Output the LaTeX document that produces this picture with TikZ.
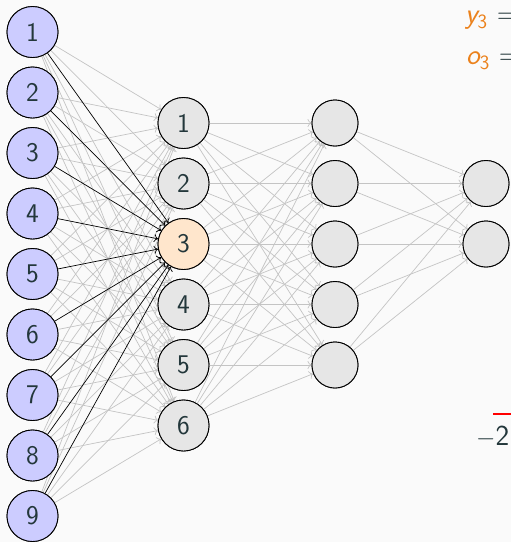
\documentclass[tikz,border=0pt]{standalone}
\usetikzlibrary{arrows.meta}
\definecolor{bgc}{HTML}{FAFAFA}
\definecolor{textc}{HTML}{23373B}
\definecolor{inpc}{HTML}{CCCCFF}
\definecolor{hidc}{HTML}{E6E6E6}
\definecolor{hlc}{HTML}{FFE6CC}
\definecolor{edgec}{HTML}{C4C4C4}
\definecolor{alertc}{HTML}{EB811B}
\tikzset{
  neuron/.style={circle, draw=black, line width=0.9pt, minimum size=51pt, inner sep=0pt, text=textc, font=\fontsize{27}{32}\selectfont\sffamily},
  inp/.style={neuron, fill=inpc},
  hid/.style={neuron, fill=hidc},
  hl/.style={neuron, fill=hlc},
  smallneuron/.style={neuron, fill=hidc, minimum size=46pt},
  edge/.style={-{To[length=4pt,width=8pt]}, draw=edgec, line width=0.7pt},
  hedge/.style={-{To[length=4pt,width=8pt]}, draw=black, line width=0.7pt},
  mtext/.style={text=alertc, font=\fontsize{29}{34}\selectfont\sffamily, inner sep=0pt, anchor=base west}
}
\begin{document}
\begin{tikzpicture}[x=1pt,y=-1pt]
\fill[bgc] (0,0) rectangle (511,542);
\useasboundingbox (0,0) rectangle (511,542);
\clip (0,0) rectangle (511,542);
% input layer
\foreach \i in {1,...,9} {
  \node[inp] (I\i) at (32.5, {32+(\i-1)*60.5}) {\i};
}
% hidden layer 1
\foreach \j in {1,...,6} {
  \ifnum\j=3
    \node[hl] (H\j) at (183.5, {123+(\j-1)*60.5}) {\j};
  \else
    \node[hid] (H\j) at (183.5, {123+(\j-1)*60.5}) {\j};
  \fi
}
% hidden layer 2
\foreach \k in {1,...,5} {
  \node[smallneuron] (G\k) at (335, {123+(\k-1)*60.5}) {};
}
% output layer
\foreach \m in {1,2} {
  \node[smallneuron] (O\m) at (486, {183.5+(\m-1)*60.5}) {};
}
% edges
\foreach \i in {1,...,9} {
  \foreach \j in {1,2,4,5,6} {
    \draw[edge] (I\i) -- (H\j);
  }
}
\foreach \j in {1,...,6} {
  \foreach \k in {1,...,5} {
    \draw[edge] (H\j) -- (G\k);
  }
}
\foreach \k in {1,...,5} {
  \foreach \m in {1,2} {
    \draw[edge] (G\k) -- (O\m);
  }
}
\foreach \i in {1,...,9} {
  \draw[hedge] (I\i) -- (H3);
}
% redraw nodes on top
\foreach \i in {1,...,9} {
  \node[inp] at (I\i) {\i};
}
\foreach \j in {1,...,6} {
  \ifnum\j=3
    \node[hl] at (H\j) {\j};
  \else
    \node[hid] at (H\j) {\j};
  \fi
}
\foreach \k in {1,...,5} {
  \node[smallneuron] at (G\k) {};
}
\foreach \m in {1,2} {
  \node[smallneuron] at (O\m) {};
}
% clipped text on the right
\node[mtext] (ty) at (465,23) {\itshape y\upshape\textsubscript{3}\hspace{9pt}\textcolor{textc}{=}};
\node[mtext] (to) at (466,64) {\itshape o\upshape\textsubscript{3}\hspace{9pt}\textcolor{textc}{=}};
\node[mtext, text=textc] (tm) at (476,445) {$-$2};
\coordinate (ra) at (493,414);
\coordinate (rb) at (515,414);
\draw[red, line width=1.6pt] (ra) -- (rb);
\end{tikzpicture}
\end{document}
